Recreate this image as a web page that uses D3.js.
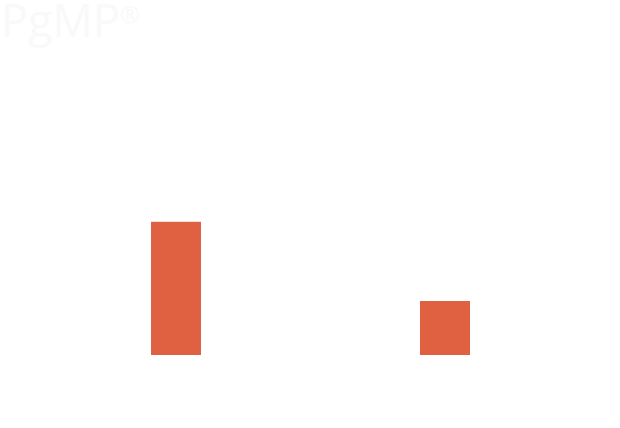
<!DOCTYPE html>
<html>
<head>
<meta charset="utf-8">
<script src="https://cdn.jsdelivr.net/npm/d3@7"></script>
<style>
  html, body { margin: 0; padding: 0; background: #fff; }
  svg { display: block; }
</style>
</head>
<body>
<script>
const categories = ["A", "B"];
const values = [74, 30];
const yDomain = [0, 100];
const titleText = "PgMP";
const titleMark = "®";

const W = 620, H = 428;
const svg = d3.select("body").append("svg").attr("width", W).attr("height", H);

const x = d3.scaleBand().domain(categories).range([41.5, 579.5]);
const y = d3.scaleLinear().domain(yDomain).range([355, 175]);
const barW = 50;

svg.append("g").selectAll("rect")
  .data(categories)
  .join("rect")
  .attr("x", (d) => x(d) + x.bandwidth() / 2 - barW / 2)
  .attr("y", (d, i) => y(values[i]))
  .attr("width", barW)
  .attr("height", (d, i) => y(0) - y(values[i]))
  .attr("fill", "#e06142");

const t = svg.append("text")
  .attr("x", 1)
  .attr("y", 37)
  .attr("font-family", "'Open Sans', sans-serif")
  .attr("font-size", 45)
  .attr("fill", "#f9f9f9");
t.append("tspan").text(titleText);
t.append("tspan").attr("font-size", 24).attr("dy", -14).text(titleMark);
</script>
</body>
</html>
